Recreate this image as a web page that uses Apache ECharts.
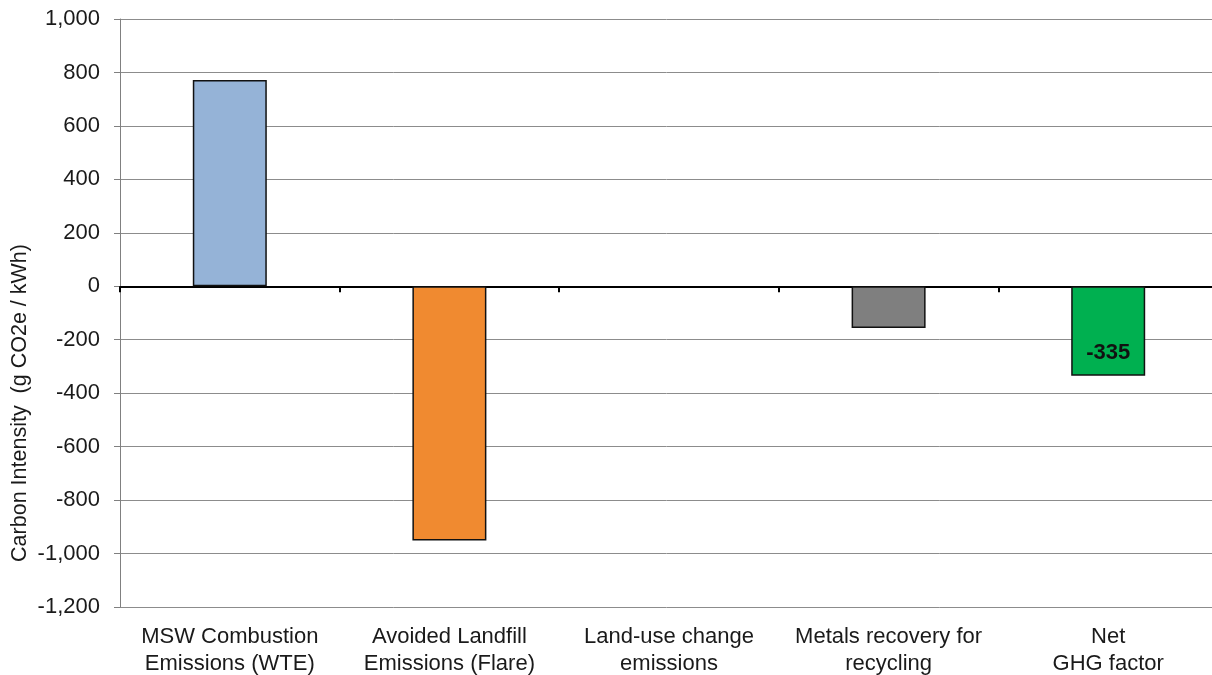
<!DOCTYPE html>
<html><head><meta charset="utf-8">
<script src="https://cdn.jsdelivr.net/npm/echarts@6/dist/echarts.min.js"></script>
<style>html,body{margin:0;padding:0;background:#fff}#c{width:1212px;height:675px}</style>
</head><body><div id="c"></div>
<script>
const categories = ["MSW Combustion\nEmissions (WTE)", "Avoided Landfill\nEmissions (Flare)", "Land-use change\nemissions", "Metals recovery for\nrecycling", "Net\nGHG factor"];
const values = [772, -951, 0, -156, -335];
const barColors = ["#95B3D7", "#F08A30", "#A6A6A6", "#7F7F7F", "#00B050"];
const yTicks = { min: -1200, max: 1000, interval: 200 };
const yAxisTitle = "Carbon Intensity  (g CO2e / kWh)";

const chart = echarts.init(document.getElementById('c'), null, {renderer: 'canvas'});
const font = "'Liberation Sans', Arial, sans-serif";
chart.setOption({
  animation: false,
  backgroundColor: '#fff',
  textStyle: { fontFamily: font },
  grid: { left: 120, top: 19, width: 1098, bottom: 68, outerBoundsMode: 'none', containLabel: false },
  xAxis: [
    {
      type: 'category', data: categories, position: 'bottom',
      axisLine: { show: false, onZero: false }, axisTick: { show: false },
      axisLabel: { color: '#1a1a1a', fontSize: 22, lineHeight: 27, margin: 16, fontFamily: font, interval: 0 }
    },
    {
      type: 'category', data: categories, position: 'bottom',
      axisLine: { show: true, onZero: true, lineStyle: { color: '#000', width: 2 } },
      axisTick: { show: true, length: 6, inside: false, lineStyle: { color: '#000', width: 2 } },
      axisLabel: { show: false }
    }
  ],
  yAxis: {
    type: 'value', min: yTicks.min, max: yTicks.max, interval: yTicks.interval,
    axisLine: { show: true, lineStyle: { color: '#808080', width: 1 } },
    axisTick: { show: true, length: 6, lineStyle: { color: '#808080' } },
    splitLine: { show: true, lineStyle: { color: '#8c8c8c', width: 1 } },
    axisLabel: { color: '#1a1a1a', fontSize: 22, margin: 20, fontFamily: font,
      formatter: v => v.toLocaleString('en-US') }
  },
  series: [{
    type: 'bar', data: values.map((v, i) => ({
      value: v,
      itemStyle: { color: barColors[i], borderWidth: v === 0 ? 0 : 1.5 },
      label: i === values.length - 1 ? { show: true, position: 'inside', offset: [0, 22],
        formatter: p => String(p.value), fontSize: 22, fontWeight: 'bold', color: '#111', fontFamily: font } : { show: false }
    })),
    barWidth: 74,
    itemStyle: { borderColor: '#111', borderWidth: 1.5 },
    xAxisIndex: 0
  }],
  graphic: [{
    type: 'text', x: 20, y: 403, rotation: Math.PI / 2,
    style: { text: yAxisTitle, fontSize: 21.5, fill: '#1a1a1a', fontFamily: font, align: 'center', verticalAlign: 'middle' }
  }]
});
</script></body></html>
